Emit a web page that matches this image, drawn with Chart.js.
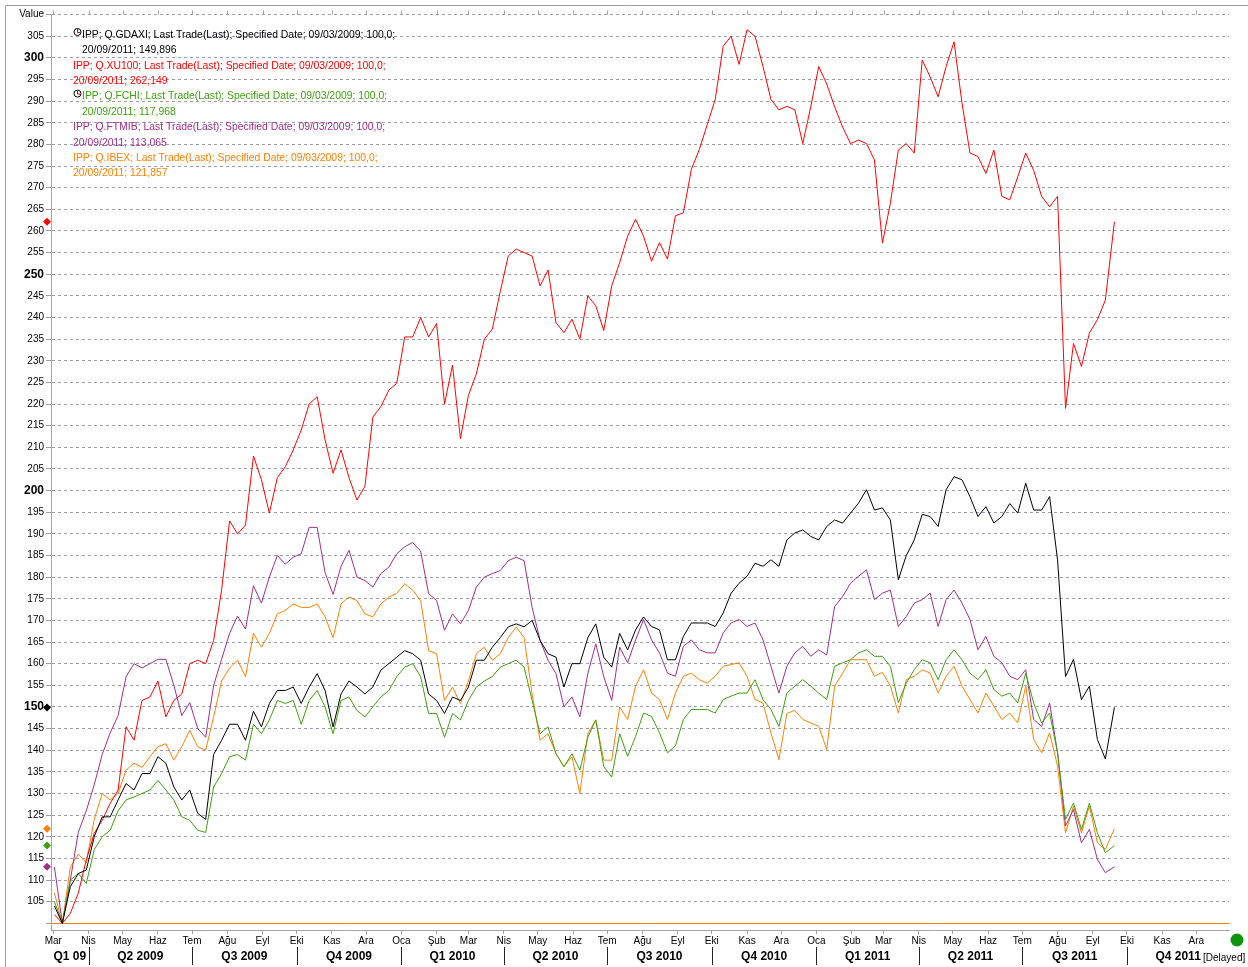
<!DOCTYPE html>
<html>
<head>
<meta charset="utf-8">
<script src="https://cdn.jsdelivr.net/npm/chart.js@4.4.1/dist/chart.umd.min.js"></script>
<style>
  body { margin: 0; background: #fff; }
  canvas { display: block; }
</style>
</head>
<body>
<canvas id="cv" width="1248" height="967"></canvas>
<script>
// weekly closes, rebased to 100 on 09/03/2009, last point is 20/09/2011
var weekDates = [];
for (var t = Date.UTC(2009, 2, 2); t <= Date.UTC(2011, 8, 12); t += 7 * 864e5) weekDates.push(t);
weekDates.push(Date.UTC(2011, 8, 20));

var gdaxi = [104,100,108.5,111.5,112.3,120,124.6,124.6,128.5,132.3,130.8,134.6,134.6,138.5,137,131.5,128.5,130.8,125.4,124,
  139,142.3,146,146,142.3,149,145.4,150.8,153.8,153.8,154.6,150.8,154.6,157.7,153.8,145.4,153,156,154.6,153,
  154.6,158.5,160,161.5,163,162.3,160.8,153,151.5,148.5,152.3,151.5,154.6,160.8,160.8,163.8,166,168.5,169.2,168.5,
  170,165.4,162.3,161.5,154.6,160,160,166,169.2,161.5,159.2,167,163.2,167.8,170.8,168.6,167.8,160.9,160.9,166.3,
  169.4,169.4,169.4,168.6,171.7,176.3,178.6,180.2,183.2,182.5,184,182.5,188.6,190.2,190.9,189.4,188.6,191.7,193.2,192.5,
  194.8,197.1,200.2,195.5,196,193.2,179.4,185,188.6,194.5,194,191.7,200.2,203.2,202.5,198.6,194,196.3,192.5,194,
  197,194.8,201.7,195.5,195.5,198.6,184,157,161,151.7,154.8,142.5,138,149.896];

var xu100 = [102,100,102.3,107,114.6,120.8,123.8,127.7,130.8,145.4,142.3,151.5,152.3,156,147.7,151.5,153,160,160.8,160,
  165.4,177,193,190,192,208,202.5,194.8,203,205.5,209.4,214,220,221.7,211.7,204,209.4,203,197.8,201,
  217,219.4,223.2,224.8,235.5,235.5,240,235.5,238.6,220,229,212,222,227,235,237.3,246,254.2,255.8,255,
  254.2,247.3,251,238.8,236.5,239.6,235,245,242.7,237,247.3,252.7,258.8,262.7,258.8,253,257.3,253.5,263.5,264.2,
  274.2,278.8,284.6,290.4,302.7,305,298.5,306.5,305,298,290.4,288,288.8,288,280.2,288.7,298,294,288.7,284,
  280.2,281,280.2,276.4,257.2,266.4,278.7,280.2,278,299.5,295.6,291,298,303.7,289.5,278,277.2,273.3,278.7,268,
  267.2,272.5,278,274,268,265.6,268,219,234,228.7,236.4,239.5,244,262.149];

var fchi = [105,100,110,111.5,109.2,117,120,121.5,126,128.5,129.2,130,130.8,133,130.8,128.5,124.6,123.8,121.5,121,
  131.5,134.6,138.5,139,137.7,146,143.8,147,151.5,150.8,151.5,146,151.5,153.8,150,143.8,151.5,152.3,149.2,147.7,
  150,152.3,153.8,157,159.2,160,157,148.5,148.5,143,148.5,147,151.5,154.6,156,157,159.2,160,160.8,159.2,
  151.5,143.8,145.4,139.2,136.2,139.2,135.4,143,147,136.2,133.8,143.8,138.6,143.2,148.6,147.8,144,139.4,141,147.1,
  149.4,149.4,149.4,148.6,151.7,152.5,153.2,153.2,156.3,151.7,149.4,145.5,153.2,154.8,156.3,154.8,153.2,151.7,159.4,160.2,
  160.9,162.5,163.2,161.7,161.7,159.4,151,155.5,158.6,160.9,160.2,156.3,160.9,163.2,160.9,157.8,156.3,158.6,154,152.5,
  153.2,150.9,157.8,150.9,146.3,148.6,139.4,124,127.8,121.7,127.8,120.9,116.3,117.968];

var ftmib = [113,100,110,121,126,132,139,144,148,157,160,159,160,161,161,155,148,151,145,143,
  155,161,167,171,168,178,174,180,185,183,184.6,185.4,191.5,191.5,181,176,182.5,186.2,180,179.2,
  177.7,180.8,182.3,185.4,187,188,186,176.2,174.6,167.7,171.5,169.2,172.3,177.7,180,180.8,181.5,183.8,184.6,183.8,
  173,165.4,160.8,157.7,150,152.3,147.7,157.7,164.6,157,151.5,163.8,160.2,165.5,170.2,165.5,162.5,157.8,157.1,164,
  165.5,163.2,162.5,162.5,167.1,169.4,170.2,168.6,169.4,165.5,159.4,153.2,159.4,162.5,164,161.7,163.2,162,173.2,175.5,
  178.6,180.2,181.7,174.8,176.3,177,168.6,170.9,174,174.8,176.3,168.6,174.8,177,174,170.2,163.2,166.3,161.7,160.2,
  157.1,156.3,158.6,147.1,145.5,150.9,139.4,122.5,126.3,118.6,121.7,114.8,111.7,113.065];

var ibex = [107,100,113,116,114,124,130,128.5,130,135.4,137,136,138.5,140.8,141.5,137.7,140.8,144.6,140.8,140,
  147.7,156,159,160.8,157,167,163.8,167,171.5,172.3,173.8,173,173,173.8,170.8,166,173.8,175.4,174.6,171.5,
  170.8,173.8,175.4,176.2,178.5,177,174.6,163,162.3,151.5,154.6,150.8,156,162.3,163.8,160.8,162.3,166,168.5,166,
  153,142.3,143.8,139.2,136.2,138.5,130,143.8,147,137.7,137.7,150,147.1,154.8,158.6,153.2,151.7,147.1,153.2,157.1,
  157.8,156.3,155.5,157.1,159.4,159.8,160.2,157.1,151.7,150.9,144,137.8,148.5,149.2,147.1,146.3,145.5,140.2,154.8,157.8,
  160.9,160.9,160.9,157.1,158,154.8,148.6,156.3,157.1,158.6,157.8,153.2,157.1,159.4,154.8,151.7,148.6,153.2,150.2,147.1,
  148.6,146.3,154.8,142.5,139.4,144,136.3,120.9,127.1,120.9,127.1,118.6,117.1,121.857];

var seriesNames = ['Q.GDAXI', 'Q.XU100', 'Q.FCHI', 'Q.FTMIB', 'Q.IBEX'];
var seriesColors = ['#000000', '#ff0000', '#3f9f0f', '#9e2f8a', '#ff8000'];
var seriesData = [gdaxi, xu100, fchi, ftmib, ibex];
var hasIcon = [true, false, true, false, false];

var monthNames = ['Oca', 'Şub', 'Mar', 'Nis', 'May', 'Haz', 'Tem', 'Ağu', 'Eyl', 'Eki', 'Kas', 'Ara'];
var quarterLabels = ['Q1 09', 'Q2 2009', 'Q3 2009', 'Q4 2009', 'Q1 2010', 'Q2 2010', 'Q3 2010', 'Q4 2010',
  'Q1 2011', 'Q2 2011', 'Q3 2011', 'Q4 2011'];
var yTicks = [];
for (var v = 100; v <= 310; v += 5) yTicks.push(v);

var DAY0 = Date.UTC(2009, 2, 1);
function dayOf(ms) { return (ms - DAY0) / 864e5; }

// month starts Mar 2009 .. Dec 2011
var monthTicks = [];
for (var m = 2; m <= 35; m++) monthTicks.push(dayOf(Date.UTC(2009 + Math.floor(m / 12), m % 12, 1)));
function monthLabel(day) {
  var d = new Date(DAY0 + day * 864e5);
  return monthNames[d.getUTCMonth()];
}

var X_MIN = -2, X_MAX = 1034;
var gridCol = '#9c9cac';

var datasets = seriesData.map(function (arr, i) {
  return {
    label: seriesNames[i],
    data: arr.map(function (val, j) { return { x: dayOf(weekDates[j]), y: val }; }),
    borderColor: seriesColors[i],
    borderWidth: 1,
    pointRadius: 0,
    tension: 0,
    fill: false
  };
});

// frame, baseline at 100, text block, markers and quarter row
var decor = {
  id: 'decor',
  beforeDraw: function (chart) {
    var ctx = chart.ctx;
    ctx.save();
    ctx.strokeStyle = '#a0a0a0';
    ctx.lineWidth = 1;
    ctx.beginPath();
    ctx.moveTo(5.5, 967); ctx.lineTo(5.5, 5.5); ctx.lineTo(1248, 5.5);
    ctx.stroke();
    ctx.restore();
  },
  beforeDatasetsDraw: function (chart) {
    var ctx = chart.ctx, a = chart.chartArea, xs = chart.scales.x, ys = chart.scales.y;
    ctx.save();
    var y100 = Math.round(ys.getPixelForValue(100)) + 0.5;
    ctx.strokeStyle = '#ff8000';
    ctx.lineWidth = 1;
    ctx.beginPath(); ctx.moveTo(a.left, y100); ctx.lineTo(a.right, y100); ctx.stroke();
    // small month ticks on the top edge
    ctx.strokeStyle = gridCol;
    monthTicks.forEach(function (d) {
      var x = Math.round(xs.getPixelForValue(d)) + 0.5;
      ctx.beginPath(); ctx.moveTo(x, a.top - 4); ctx.lineTo(x, a.top); ctx.stroke();
    });
    ctx.restore();
  },
  afterDraw: function (chart) {
    var ctx = chart.ctx, a = chart.chartArea, xs = chart.scales.x, ys = chart.scales.y;
    ctx.save();
    ctx.font = '10.4px "Liberation Sans", Arial, sans-serif';
    ctx.textBaseline = 'middle';
    var row = 0;
    seriesData.forEach(function (arr, i) {
      var last = arr[arr.length - 1].toFixed(3).replace('.', ',');
      var x0 = hasIcon[i] ? 82 : 73;
      var y1 = 35 + row * 15.4, y2 = y1 + 15.4;
      if (hasIcon[i]) {
        ctx.strokeStyle = '#000';
        ctx.lineWidth = 1;
        ctx.beginPath(); ctx.arc(77.5, y1 - 3, 3.5, 0, Math.PI * 2); ctx.stroke();
        ctx.strokeStyle = '#e00000';
        ctx.beginPath(); ctx.moveTo(77.5, y1 - 6); ctx.lineTo(77.5, y1 - 2.5); ctx.lineTo(80, y1 - 2.5); ctx.stroke();
      }
      ctx.fillStyle = seriesColors[i];
      ctx.fillText('IPP; ' + seriesNames[i] + '; Last Trade(Last); Specified Date; 09/03/2009; 100,0;', x0, y1);
      ctx.fillText('20/09/2011; ' + last, x0, y2);
      row += 2;

      // last value marker on the value axis
      var yy = ys.getPixelForValue(arr[arr.length - 1]);
      ctx.beginPath();
      ctx.moveTo(47, yy - 4); ctx.lineTo(51, yy); ctx.lineTo(47, yy + 4); ctx.lineTo(43, yy);
      ctx.closePath();
      ctx.fill();
    });

    // quarter row
    ctx.fillStyle = '#000';
    ctx.strokeStyle = '#222';
    ctx.lineWidth = 1;
    ctx.font = 'bold 12px "Liberation Sans", Arial, sans-serif';
    ctx.textAlign = 'center';
    for (var q = 0; q < quarterLabels.length; q++) {
      var qs = dayOf(Date.UTC(2009 + Math.floor(q / 4), (q % 4) * 3, 1));
      var qe = dayOf(Date.UTC(2009 + Math.floor((q + 1) / 4), ((q + 1) % 4) * 3, 1));
      var xl = xs.getPixelForValue(Math.max(qs, X_MIN));
      var xr = xs.getPixelForValue(Math.min(qe, X_MAX));
      ctx.fillText(quarterLabels[q], (xl + xr) / 2, 957);
      if (q > 0) {
        var xsep = Math.round(xl) + 0.5;
        ctx.beginPath(); ctx.moveTo(xsep, 947); ctx.lineTo(xsep, 965); ctx.stroke();
      }
    }
    ctx.font = '10px "Liberation Sans", Arial, sans-serif';
    ctx.textAlign = 'left';
    ctx.fillText('[Delayed]', 1203, 958);

    // status light
    ctx.fillStyle = '#0f940f';
    ctx.beginPath(); ctx.arc(1237, 940, 6.5, 0, Math.PI * 2); ctx.fill();
    ctx.restore();
  }
};

new Chart(document.getElementById('cv'), {
  type: 'line',
  data: { datasets: datasets },
  plugins: [decor],
  options: {
    responsive: false,
    devicePixelRatio: 1,
    animation: false,
    layout: { padding: { top: 14.6, right: 18.7, bottom: 0, left: 0 } },
    plugins: { legend: { display: false }, tooltip: { enabled: false } },
    scales: {
      x: {
        type: 'linear',
        min: X_MIN,
        max: X_MAX,
        afterBuildTicks: function (s) { s.ticks = monthTicks.map(function (d) { return { value: d }; }); },
        afterFit: function (s) { s.height = 37; },
        grid: { drawOnChartArea: false, drawTicks: true, tickLength: 4, color: gridCol },
        border: { color: '#a4a4b4' },
        ticks: {
          autoSkip: false,
          maxRotation: 0,
          padding: 1,
          color: '#000',
          font: { family: '"Liberation Sans", Arial, sans-serif', size: 10 },
          callback: function (val) { return monthLabel(val); }
        }
      },
      y: {
        min: 98.45,
        max: 310,
        afterBuildTicks: function (s) { s.ticks = yTicks.map(function (v) { return { value: v }; }); },
        afterFit: function (s) { s.width = 51; },
        grid: { color: gridCol, tickLength: 5, tickColor: gridCol },
        border: { color: '#a4a4b4', dash: [3, 3] },
        ticks: {
          padding: 2,
          color: '#000',
          font: function (c) {
            var val = c.tick ? c.tick.value : 0;
            if (val % 50 === 0 && val !== 100) return { family: '"Liberation Sans", Arial, sans-serif', size: 12, weight: 'bold' };
            return { family: '"Liberation Sans", Arial, sans-serif', size: 10 };
          },
          callback: function (val) {
            if (val === 310) return 'Value';
            if (val === 100) return '';
            return val;
          }
        }
      }
    }
  }
});
</script>
</body>
</html>
